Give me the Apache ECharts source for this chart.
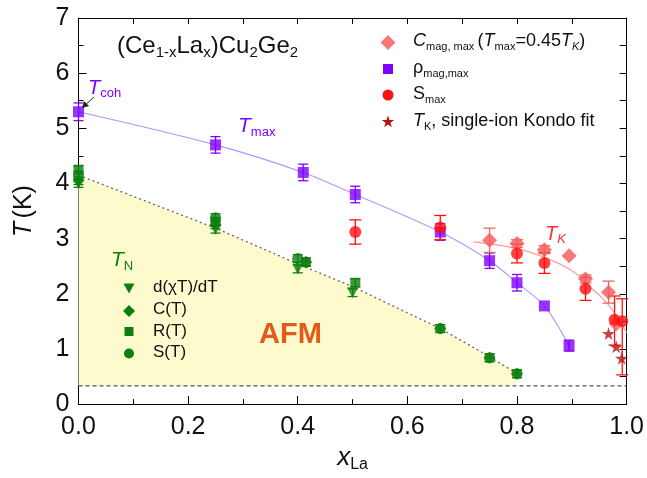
<!DOCTYPE html>
<html>
<head>
<meta charset="utf-8">
<script src="https://cdn.jsdelivr.net/npm/echarts@6/dist/echarts.min.js"></script>
<style>
  html, body { margin: 0; padding: 0; background: #fff; }
  #chart { width: 647px; height: 478px; }
</style>
</head>
<body>
<div id="chart"></div>
<script>
// (Ce1-xLax)Cu2Ge2 phase diagram: characteristic temperatures vs La content

// rho_mag,max (T_max) with error bars
const rhoX   = [0.00, 0.25, 0.41, 0.505, 0.66, 0.75, 0.80, 0.85, 0.895];
const rhoT   = [5.30, 4.70, 4.20, 3.80, 3.12, 2.60, 2.20, 1.78, 1.06];
const rhoErr = [0.16, 0.15, 0.15, 0.15, 0.15, 0.14, 0.15, 0.00, 0.10];

// S_max
const sX     = [0.505, 0.66, 0.80, 0.85, 0.925, 0.978, 0.992];
const sT     = [3.12, 3.20, 2.73, 2.56, 2.09, 1.53, 1.50];
const sErrLo = [0.22, 0.22, 0.17, 0.19, 0.21, 0.46, 0.97];
const sErrHi = [0.22, 0.22, 0.17, 0.19, 0.21, 0.43, 0.41];

// C_mag,max (T_max = 0.45 T_K)
const cX   = [0.75, 0.80, 0.85, 0.895, 0.925, 0.967, 0.981];
const cT   = [2.97, 2.91, 2.80, 2.69, 2.27, 2.03, 1.45];
const cErr = [0.22, 0.07, 0.07, 0.00, 0.07, 0.20, 0.00];

// T_K from single-ion Kondo fit
const kX = [0.967, 0.981, 0.991];
const kT = [1.28, 1.04, 0.83];

// T_K guide line
const tkLineX = [0.72, 0.80, 0.85, 0.90, 0.93, 0.965, 1.00];
const tkLineT = [2.94, 2.82, 2.66, 2.42, 2.15, 1.82, 1.30];

// T_N from different probes
const dchiX = [0.00, 0.25, 0.40, 0.50];
const dchiT = [4.00, 3.17, 2.45, 2.02];
const cTX   = [0.00, 0.25, 0.415, 0.66, 0.75, 0.80];
const cTT   = [4.05, 3.25, 2.58, 1.37, 0.84, 0.55];
const rTX   = [0.00, 0.25, 0.505];
const rTT   = [4.25, 3.30, 2.20];
const sTX   = [0.00, 0.25, 0.40, 0.415, 0.66, 0.75, 0.80];
const sTT   = [4.15, 3.38, 2.64, 2.57, 1.37, 0.84, 0.55];
const tnErr = 0.07;

// AFM phase boundary and lowest measured temperature
const afmX  = [0.00, 0.25, 0.41, 0.50, 0.66, 0.75, 0.80];
const afmT  = [4.15, 3.19, 2.50, 2.13, 1.37, 0.86, 0.55];
const baseT = 0.33;

// axis ticks
const xTicks = { min: 0, max: 1, interval: 0.2 };
const yTicks = { min: 0, max: 7, interval: 1 };

const FONT = '"Liberation Sans", Arial, Helvetica, sans-serif';
const PURPLE = '#8000ff';
const PURPLE_LINE = '#a898ff';
const RED = '#ff1010';
const PINK = '#f46060';
const DARKRED = '#b41414';
const GREEN = '#0e7f0e';
const STAR = 'path://M50,0 L61,35 L98,35 L68,57 L79,91 L50,70 L21,91 L32,57 L2,35 L39,35 Z';

const pts = (xs, ys) => xs.map((x, i) => [x, ys[i]]);

function errorBars(xs, ys, lo, hi, color, cap) {
  return {
    type: 'custom',
    z: 3,
    silent: true,
    encode: { x: 0, y: 1 },
    data: xs.map((x, i) => [x, ys[i], ys[i] - lo[i], ys[i] + hi[i]]),
    renderItem: (params, api) => {
      const x = api.value(0);
      const a = api.coord([x, api.value(3)]);
      const b = api.coord([x, api.value(2)]);
      if (Math.abs(a[1] - b[1]) < 0.5) return { type: 'group', children: [] };
      const st = { stroke: color, lineWidth: 1.3 };
      return {
        type: 'group',
        children: [
          { type: 'line', shape: { x1: a[0], y1: a[1], x2: b[0], y2: b[1] }, style: st },
          { type: 'line', shape: { x1: a[0] - cap, y1: a[1], x2: a[0] + cap, y2: a[1] }, style: st },
          { type: 'line', shape: { x1: b[0] - cap, y1: b[1], x2: b[0] + cap, y2: b[1] }, style: st }
        ]
      };
    }
  };
}
const flat = (xs, e) => xs.map(() => e);

function scatter(name, xs, ys, symbol, size, color, extra) {
  return Object.assign({
    name, type: 'scatter', data: pts(xs, ys), symbol, symbolSize: size,
    itemStyle: { color }, z: 5
  }, extra || {});
}

// rich-text styles: italic, normal, subscript, italic subscript
const subRich = (color, size, subSize) => {
  const base = { fontFamily: FONT, color, fill: color, lineHeight: size + 4 };
  return {
    i: Object.assign({}, base, { fontStyle: 'italic', fontSize: size, verticalAlign: 'middle' }),
    n: Object.assign({}, base, { fontSize: size, verticalAlign: 'middle' }),
    s: Object.assign({}, base, { fontSize: subSize, verticalAlign: 'bottom' }),
    si: Object.assign({}, base, { fontStyle: 'italic', fontSize: subSize, verticalAlign: 'bottom' })
  };
};

function label(x, y, text, rich, extraStyle) {
  const style = Object.assign({ text, fontFamily: FONT }, extraStyle || {});
  if (rich) style.rich = rich;
  return { type: 'text', x, y, z: 20, style };
}

// five-pointed star outline for the legend marker
function starPoints(cx, cy, r) {
  const p = [];
  for (let k = 0; k < 10; k++) {
    const rr = k % 2 === 0 ? r : r * 0.4;
    const a = -Math.PI / 2 + k * Math.PI / 5;
    p.push([cx + rr * Math.cos(a), cy + rr * Math.sin(a)]);
  }
  return p;
}

const legendRich = subRich('#111', 18, 11);
const greenRich = subRich('#111', 17, 11);

const axisCommon = {
  type: 'value',
  axisLine: { show: true, onZero: false, lineStyle: { color: '#000', width: 1 } },
  axisTick: { show: true, inside: true, length: 8, lineStyle: { color: '#000', width: 1 } },
  minorTick: { show: true, splitNumber: 2, length: 5, lineStyle: { color: '#000', width: 1 } },
  splitLine: { show: false },
  minorSplitLine: { show: false }
};

const option = {
  animation: false,
  backgroundColor: '#fff',
  grid: { left: 78.5, right: 16.5, top: 18, bottom: 64 },
  xAxis: [
    Object.assign({}, axisCommon, xTicks, {
      position: 'bottom',
      axisLabel: { fontFamily: FONT, fontSize: 25, color: '#111', margin: 11, formatter: v => v.toFixed(1) },
      name: '{i|x}{s|La}',
      nameLocation: 'middle', nameGap: 37,
      nameTextStyle: { rich: subRich('#111', 26, 16) }
    }),
    Object.assign({}, axisCommon, xTicks, {
      position: 'top', axisLabel: { show: false },
      axisTick: { show: true, inside: true, length: 6, lineStyle: { color: '#000' } },
      minorTick: { show: true, splitNumber: 2, length: 6, lineStyle: { color: '#000' } }
    })
  ],
  yAxis: [
    Object.assign({}, axisCommon, yTicks, {
      position: 'left',
      axisLabel: { fontFamily: FONT, fontSize: 25, color: '#111', margin: 9 },
      name: '{i|T} {n|(K)}',
      nameLocation: 'middle', nameGap: 40, nameRotate: 90,
      nameTextStyle: { rich: subRich('#111', 25, 16) }
    }),
    Object.assign({}, axisCommon, yTicks, {
      position: 'right', axisLabel: { show: false },
      axisTick: { show: true, inside: true, length: 7, lineStyle: { color: '#000' } },
      minorTick: { show: true, splitNumber: 2, length: 7, lineStyle: { color: '#000' } }
    })
  ],
  series: [
    // AFM region bounded by T_N and the base temperature
    {
      type: 'line', data: pts(afmX, afmT), symbol: 'none', silent: true, z: 1,
      lineStyle: { color: '#666', width: 1.3, type: [2, 3] },
      areaStyle: { color: '#fdfbce', opacity: 1, origin: baseT }
    },
    {
      type: 'line', data: [[xTicks.min, baseT], [xTicks.max, baseT]], symbol: 'none', silent: true, z: 2,
      lineStyle: { color: '#555', width: 1.3, type: [4, 3] }
    },
    // guide lines
    {
      type: 'line', data: pts(tkLineX, tkLineT), symbol: 'none', smooth: 0.4, z: 2,
      lineStyle: { color: '#ff9c9c', width: 1.2 }
    },
    {
      type: 'line', data: pts(rhoX, rhoT), symbol: 'none', smooth: 0.3, z: 2,
      lineStyle: { color: PURPLE_LINE, width: 1.1 }
    },
    // error bars
    errorBars(rhoX, rhoT, rhoErr, rhoErr, PURPLE, 5),
    errorBars(cX, cT, cErr, cErr, PINK, 6),
    errorBars(sX, sT, sErrLo, sErrHi, RED, 6),
    errorBars(dchiX, dchiT, flat(dchiX, tnErr), flat(dchiX, tnErr), GREEN, 5),
    errorBars(cTX, cTT, flat(cTX, tnErr), flat(cTX, tnErr), GREEN, 5),
    errorBars(rTX, rTT, flat(rTX, tnErr), flat(rTX, tnErr), GREEN, 5),
    errorBars(sTX, sTT, flat(sTX, tnErr), flat(sTX, tnErr), GREEN, 5),
    // markers
    scatter('T_N d(chiT)/dT', dchiX, dchiT, 'triangle', 11, GREEN, { symbolRotate: 180 }),
    scatter('T_N C(T)', cTX, cTT, 'diamond', 12, GREEN),
    scatter('T_N R(T)', rTX, rTT, 'rect', 10, GREEN),
    scatter('T_N S(T)', sTX, sTT, 'circle', 11, GREEN),
    scatter('C_mag,max', cX, cT, 'diamond', 15, PINK, { itemStyle: { color: PINK, opacity: 0.85 } }),
    scatter('rho_mag,max', rhoX, rhoT, 'rect', 11, PURPLE),
    scatter('S_max', sX, sT, 'circle', 12, RED),
    scatter('T_K Kondo fit', kX, kT, STAR, 13, DARKRED)
  ],
  graphic: [
    // compound name
    label(117, 32, '{n|(Ce}{s|1-x}{n|La}{s|x}{n|)Cu}{s|2}{n|Ge}{s|2}', subRich('#111', 24, 15)),
    // curve labels
    label(88, 76, '{i|T}{s|coh}', subRich(PURPLE, 20, 13)),
    label(238, 114, '{i|T}{s|max}', subRich(PURPLE, 21, 13)),
    label(545, 222, '{i|T}{si|K}', subRich('#ff3030', 20, 13)),
    label(111, 248, '{i|T}{s|N}', subRich(GREEN, 21, 13)),
    label(259, 320, 'AFM', null, { fontSize: 29, fontWeight: 'bold', fill: '#e45a18' }),
    // T_coh arrow
    { type: 'line', z: 20, shape: { x1: 94, y1: 97, x2: 84, y2: 106 }, style: { stroke: '#222', lineWidth: 1 } },
    { type: 'polygon', z: 20, shape: { points: [[82, 108], [84, 101], [89, 106]] }, style: { fill: '#222' } },
    // legend: Kondo-related quantities
    { type: 'polygon', z: 20, shape: { points: [[388, 35], [395.5, 42.5], [388, 50], [380.5, 42.5]] }, style: { fill: PINK, opacity: 0.85 } },
    label(413, 30, '{i|C}{s|mag, max} {n|(}{i|T}{s|max}{n|=0.45}{i|T}{si|K}{n|)}', legendRich),
    { type: 'rect', z: 20, shape: { x: 383, y: 64, width: 10, height: 10 }, style: { fill: PURPLE } },
    label(413, 57, '{n|ρ}{s|mag,max}', legendRich),
    { type: 'circle', z: 20, shape: { cx: 388, cy: 95, r: 5.5 }, style: { fill: RED } },
    label(413, 83, '{n|S}{s|max}', legendRich),
    { type: 'polygon', z: 20, shape: { points: starPoints(388, 122, 6.5) }, style: { fill: DARKRED } },
    label(413, 110, '{i|T}{s|K}{n|, single-ion Kondo fit}', legendRich),
    // legend: T_N probes
    { type: 'polygon', z: 20, shape: { points: [[123.5, 283.5], [134.5, 283.5], [129, 293.5]] }, style: { fill: GREEN } },
    label(153, 277, '{n|d(χT)/dT}', greenRich),
    { type: 'polygon', z: 20, shape: { points: [[129, 305], [135, 311], [129, 317], [123, 311]] }, style: { fill: GREEN } },
    label(153, 299, '{n|C(T)}', greenRich),
    { type: 'rect', z: 20, shape: { x: 124.5, y: 327, width: 9, height: 9 }, style: { fill: GREEN } },
    label(153, 321, '{n|R(T)}', greenRich),
    { type: 'circle', z: 20, shape: { cx: 129, cy: 353.5, r: 5 }, style: { fill: GREEN } },
    label(153, 342, '{n|S(T)}', greenRich)
  ]
};

const chart = echarts.init(document.getElementById('chart'), null, { renderer: 'canvas' });
chart.setOption(option);
</script>
</body>
</html>
